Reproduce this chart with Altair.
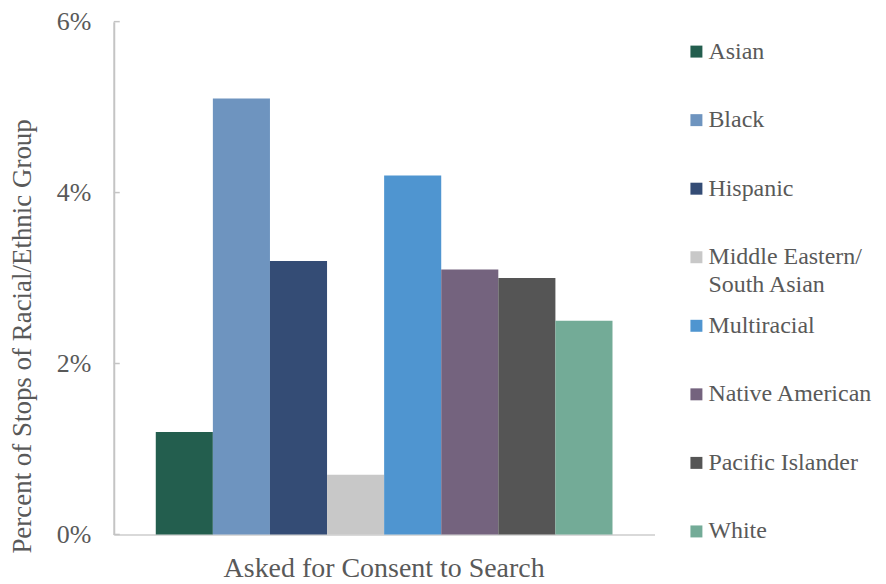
import altair as alt
import pandas as pd

groups = ["Asian", "Black", "Hispanic", "Middle Eastern/ South Asian", "Multiracial",
          "Native American", "Pacific Islander", "White"]
values = [1.2, 5.1, 3.2, 0.7, 4.2, 3.1, 3.0, 2.5]  # percent of stops
colors = ["#235e4e", "#6e94bf", "#344c75", "#c8c8c8", "#4f95d0", "#74637e", "#555555", "#73ab97"]
category = "Asked for Consent to Search"
legend_line1 = ["Asian", "Black", "Hispanic", "Middle Eastern/", "Multiracial",
                "Native American", "Pacific Islander", "White"]
legend_line2 = ["", "", "", "South Asian", "", "", "", ""]
tick_values = [0, 0.02, 0.04, 0.06]

FONT = "Liberation Serif, Times New Roman, DejaVu Serif, serif"
TXT = "#595959"
AXC = "#c4c4c4"

df = pd.DataFrame({"group": groups, "value": [v / 100 for v in values], "category": category})
ticks_df = pd.DataFrame({"t": tick_values})
leg_df = pd.DataFrame({"group": groups, "line1": legend_line1, "line2": legend_line2})

color_scale = alt.Scale(domain=groups, range=colors)
y_scale = alt.Scale(domain=[0, 0.06], nice=False)

bars = alt.Chart(df).mark_bar().encode(
    x=alt.X("category:N", scale=alt.Scale(paddingInner=0, paddingOuter=0.092),
            axis=alt.Axis(title=None, labelAngle=0, labelFontSize=28, labelColor=TXT,
                          labelFont=FONT, labelLimit=0, ticks=False, labelPadding=20,
                          domainColor="#d9d9d9", domainWidth=2)),
    xOffset=alt.XOffset("group:N", sort=groups, scale=alt.Scale(paddingInner=0, paddingOuter=0)),
    y=alt.Y("value:Q", scale=y_scale,
            axis=alt.Axis(title="Percent of Stops of  Racial/Ethnic Group", titleFontSize=27,
                          titleFont=FONT, titleColor=TXT, titleFontWeight="normal",
                          titlePadding=20, titleY=315, titleAlign="center",
                          values=tick_values, format=".0%",
                          labelFontSize=26, labelFont=FONT, labelColor=TXT, labelPadding=23,
                          ticks=False, grid=False, domainColor=AXC, domainWidth=2)),
    color=alt.Color("group:N", scale=color_scale, sort=groups, legend=None),
)

tick_rules = alt.Chart(ticks_df).mark_rule(color=AXC, strokeWidth=1.5).encode(
    y=alt.Y("t:Q", scale=y_scale),
    x=alt.value(0),
    x2=alt.value(6),
)

main = alt.layer(bars, tick_rules).properties(width=542, height=514)

lbase = alt.Chart(leg_df).encode(
    y=alt.Y("group:N", sort=groups, axis=None, scale=alt.Scale(padding=0.437)),
)
squares = lbase.mark_square(size=144, opacity=1).encode(
    x=alt.value(6),
    color=alt.Color("group:N", scale=color_scale, sort=groups, legend=None),
)
text1 = lbase.mark_text(align="left", baseline="middle", font=FONT, fontSize=24, color=TXT).encode(
    x=alt.value(18), text="line1:N")
text2 = lbase.mark_text(align="left", baseline="middle", font=FONT, fontSize=24, color=TXT, dy=28).encode(
    x=alt.value(18), text="line2:N")
legend = alt.layer(squares, text1, text2).properties(width=180, height=541)

chart = alt.hconcat(main, legend, spacing=36).properties(
    padding={"left": 0, "top": 0, "right": 5, "bottom": 5}
).configure(font=FONT, view=alt.ViewConfig(stroke=None))

chart.save("out.html", embed_options={"renderer": "svg", "actions": False})
